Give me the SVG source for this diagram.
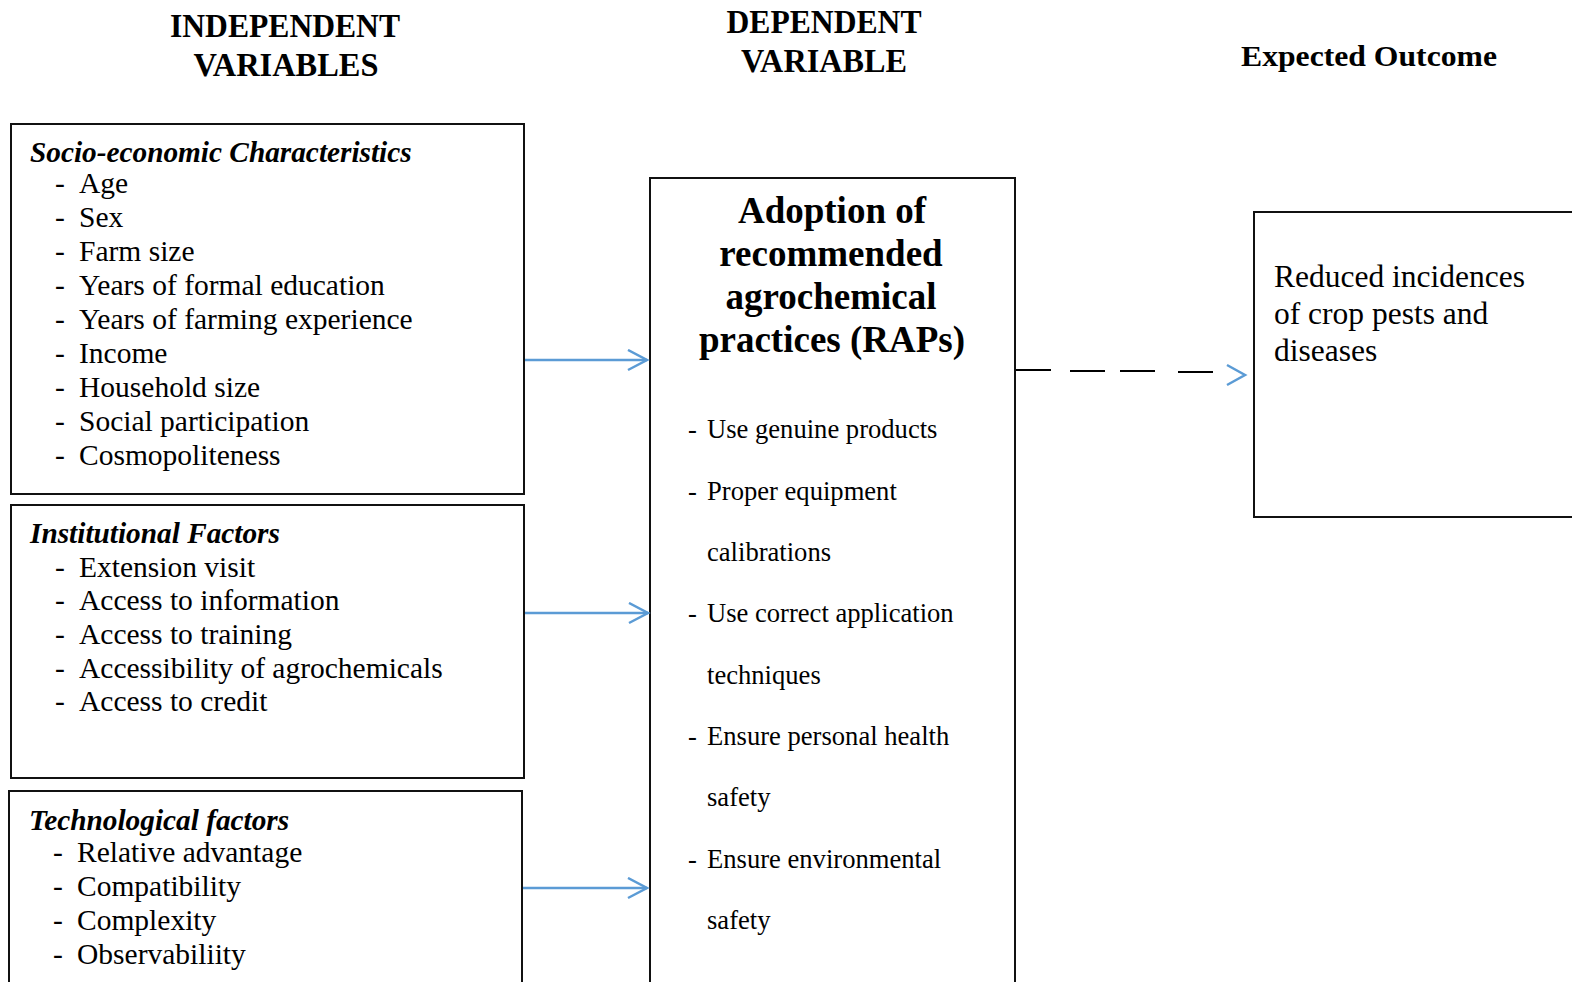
<svg xmlns="http://www.w3.org/2000/svg" width="1572" height="982" viewBox="0 0 1572 982">
<style>
.box{fill:#fff;stroke:#111;stroke-width:2}
.t{font-family:"Liberation Serif","Times New Roman",serif;fill:#000}
.hd{font-weight:bold;font-size:33px}
.ttl{font-weight:bold;font-style:italic;font-size:29.3px}
.it{font-size:29.5px}
.ct{font-weight:bold;font-size:37px}
.li{font-size:26.6px}
.rt{font-size:31.5px}
.arr{stroke:#5b9bd5;stroke-width:2.5;fill:none}
.dash{stroke:#000;stroke-width:2;fill:none}
</style>
<defs>
<marker id="ah" markerWidth="24" markerHeight="24" refX="20" refY="11" orient="auto" markerUnits="userSpaceOnUse">
<path d="M1,1 L20,11 L1,21" stroke="#5b9bd5" stroke-width="2.5" fill="none"/>
</marker>
</defs>
<rect width="1572" height="982" fill="#fff"/>
<g id="headers">
<text class="t hd" x="285" y="37" text-anchor="middle" textLength="230" lengthAdjust="spacingAndGlyphs">INDEPENDENT</text>
<text class="t hd" x="286" y="76" text-anchor="middle" textLength="185" lengthAdjust="spacingAndGlyphs">VARIABLES</text>
<text class="t hd" x="824" y="33" text-anchor="middle" textLength="195" lengthAdjust="spacingAndGlyphs">DEPENDENT</text>
<text class="t hd" x="824" y="72" text-anchor="middle" textLength="166" lengthAdjust="spacingAndGlyphs">VARIABLE</text>
<text class="t" x="1241" y="66" font-weight="bold" font-size="29" textLength="256" lengthAdjust="spacingAndGlyphs">Expected Outcome</text>
</g>
<g id="socio">
<rect class="box" x="11" y="124" width="513" height="370"/>
<text class="t ttl" x="30" y="162">Socio-economic Characteristics</text>
<g class="t it">
<text x="55" y="193">-</text><text x="79" y="193">Age</text>
<text x="55" y="227">-</text><text x="79" y="227">Sex</text>
<text x="55" y="261">-</text><text x="79" y="261">Farm size</text>
<text x="55" y="295">-</text><text x="79" y="295">Years of formal education</text>
<text x="55" y="329">-</text><text x="79" y="329">Years of farming experience</text>
<text x="55" y="363">-</text><text x="79" y="363">Income</text>
<text x="55" y="397">-</text><text x="79" y="397">Household size</text>
<text x="55" y="431">-</text><text x="79" y="431">Social participation</text>
<text x="55" y="465">-</text><text x="79" y="465">Cosmopoliteness</text>
</g>
</g>
<g id="institutional">
<rect class="box" x="11" y="505" width="513" height="273"/>
<text class="t ttl" x="30" y="543">Institutional Factors</text>
<g class="t it">
<text x="55" y="577">-</text><text x="79" y="577">Extension visit</text>
<text x="55" y="610">-</text><text x="79" y="610">Access to information</text>
<text x="55" y="644">-</text><text x="79" y="644">Access to training</text>
<text x="55" y="678">-</text><text x="79" y="678">Accessibility of agrochemicals</text>
<text x="55" y="711">-</text><text x="79" y="711">Access to credit</text>
</g>
</g>
<g id="technological">
<rect class="box" x="9" y="791" width="513" height="200"/>
<text class="t ttl" x="29" y="830">Technological factors</text>
<g class="t it">
<text x="53" y="862">-</text><text x="77" y="862">Relative advantage</text>
<text x="53" y="896">-</text><text x="77" y="896">Compatibility</text>
<text x="53" y="930">-</text><text x="77" y="930">Complexity</text>
<text x="53" y="964">-</text><text x="77" y="964">Observabiliity</text>
</g>
</g>
<g id="adoption">
<rect class="box" x="650" y="178" width="365" height="820"/>
<g class="t ct" text-anchor="middle">
<text x="832" y="223">Adoption of</text>
<text x="831" y="266">recommended</text>
<text x="831" y="309">agrochemical</text>
<text x="832" y="352">practices (RAPs)</text>
</g>
<g class="t li">
<text x="688" y="438">-</text><text x="707" y="438">Use genuine products</text>
<text x="688" y="500">-</text><text x="707" y="500">Proper equipment</text>
<text x="707" y="561">calibrations</text>
<text x="688" y="622">-</text><text x="707" y="622">Use correct application</text>
<text x="707" y="684">techniques</text>
<text x="688" y="745">-</text><text x="707" y="745">Ensure personal health</text>
<text x="707" y="806">safety</text>
<text x="688" y="868">-</text><text x="707" y="868">Ensure environmental</text>
<text x="707" y="929">safety</text>
</g>
</g>
<g id="outcome">
<rect class="box" x="1254" y="212" width="330" height="305"/>
<g class="t rt">
<text x="1274" y="287">Reduced incidences</text>
<text x="1274" y="324">of crop pests and</text>
<text x="1274" y="361">diseases</text>
</g>
</g>
<g id="connectors">
<line class="arr" x1="525" y1="360" x2="647" y2="360" marker-end="url(#ah)"/>
<line class="arr" x1="525" y1="613" x2="648" y2="613" marker-end="url(#ah)"/>
<line class="arr" x1="523" y1="888" x2="647" y2="888" marker-end="url(#ah)"/>
<path class="dash" d="M1016,370 H1051 M1070,371 H1105 M1120,371 H1155 M1178,372 H1213"/>
<path d="M1227,365 L1245,375 L1227,385" stroke="#5b9bd5" stroke-width="2.5" fill="none"/>
</g>
</svg>
